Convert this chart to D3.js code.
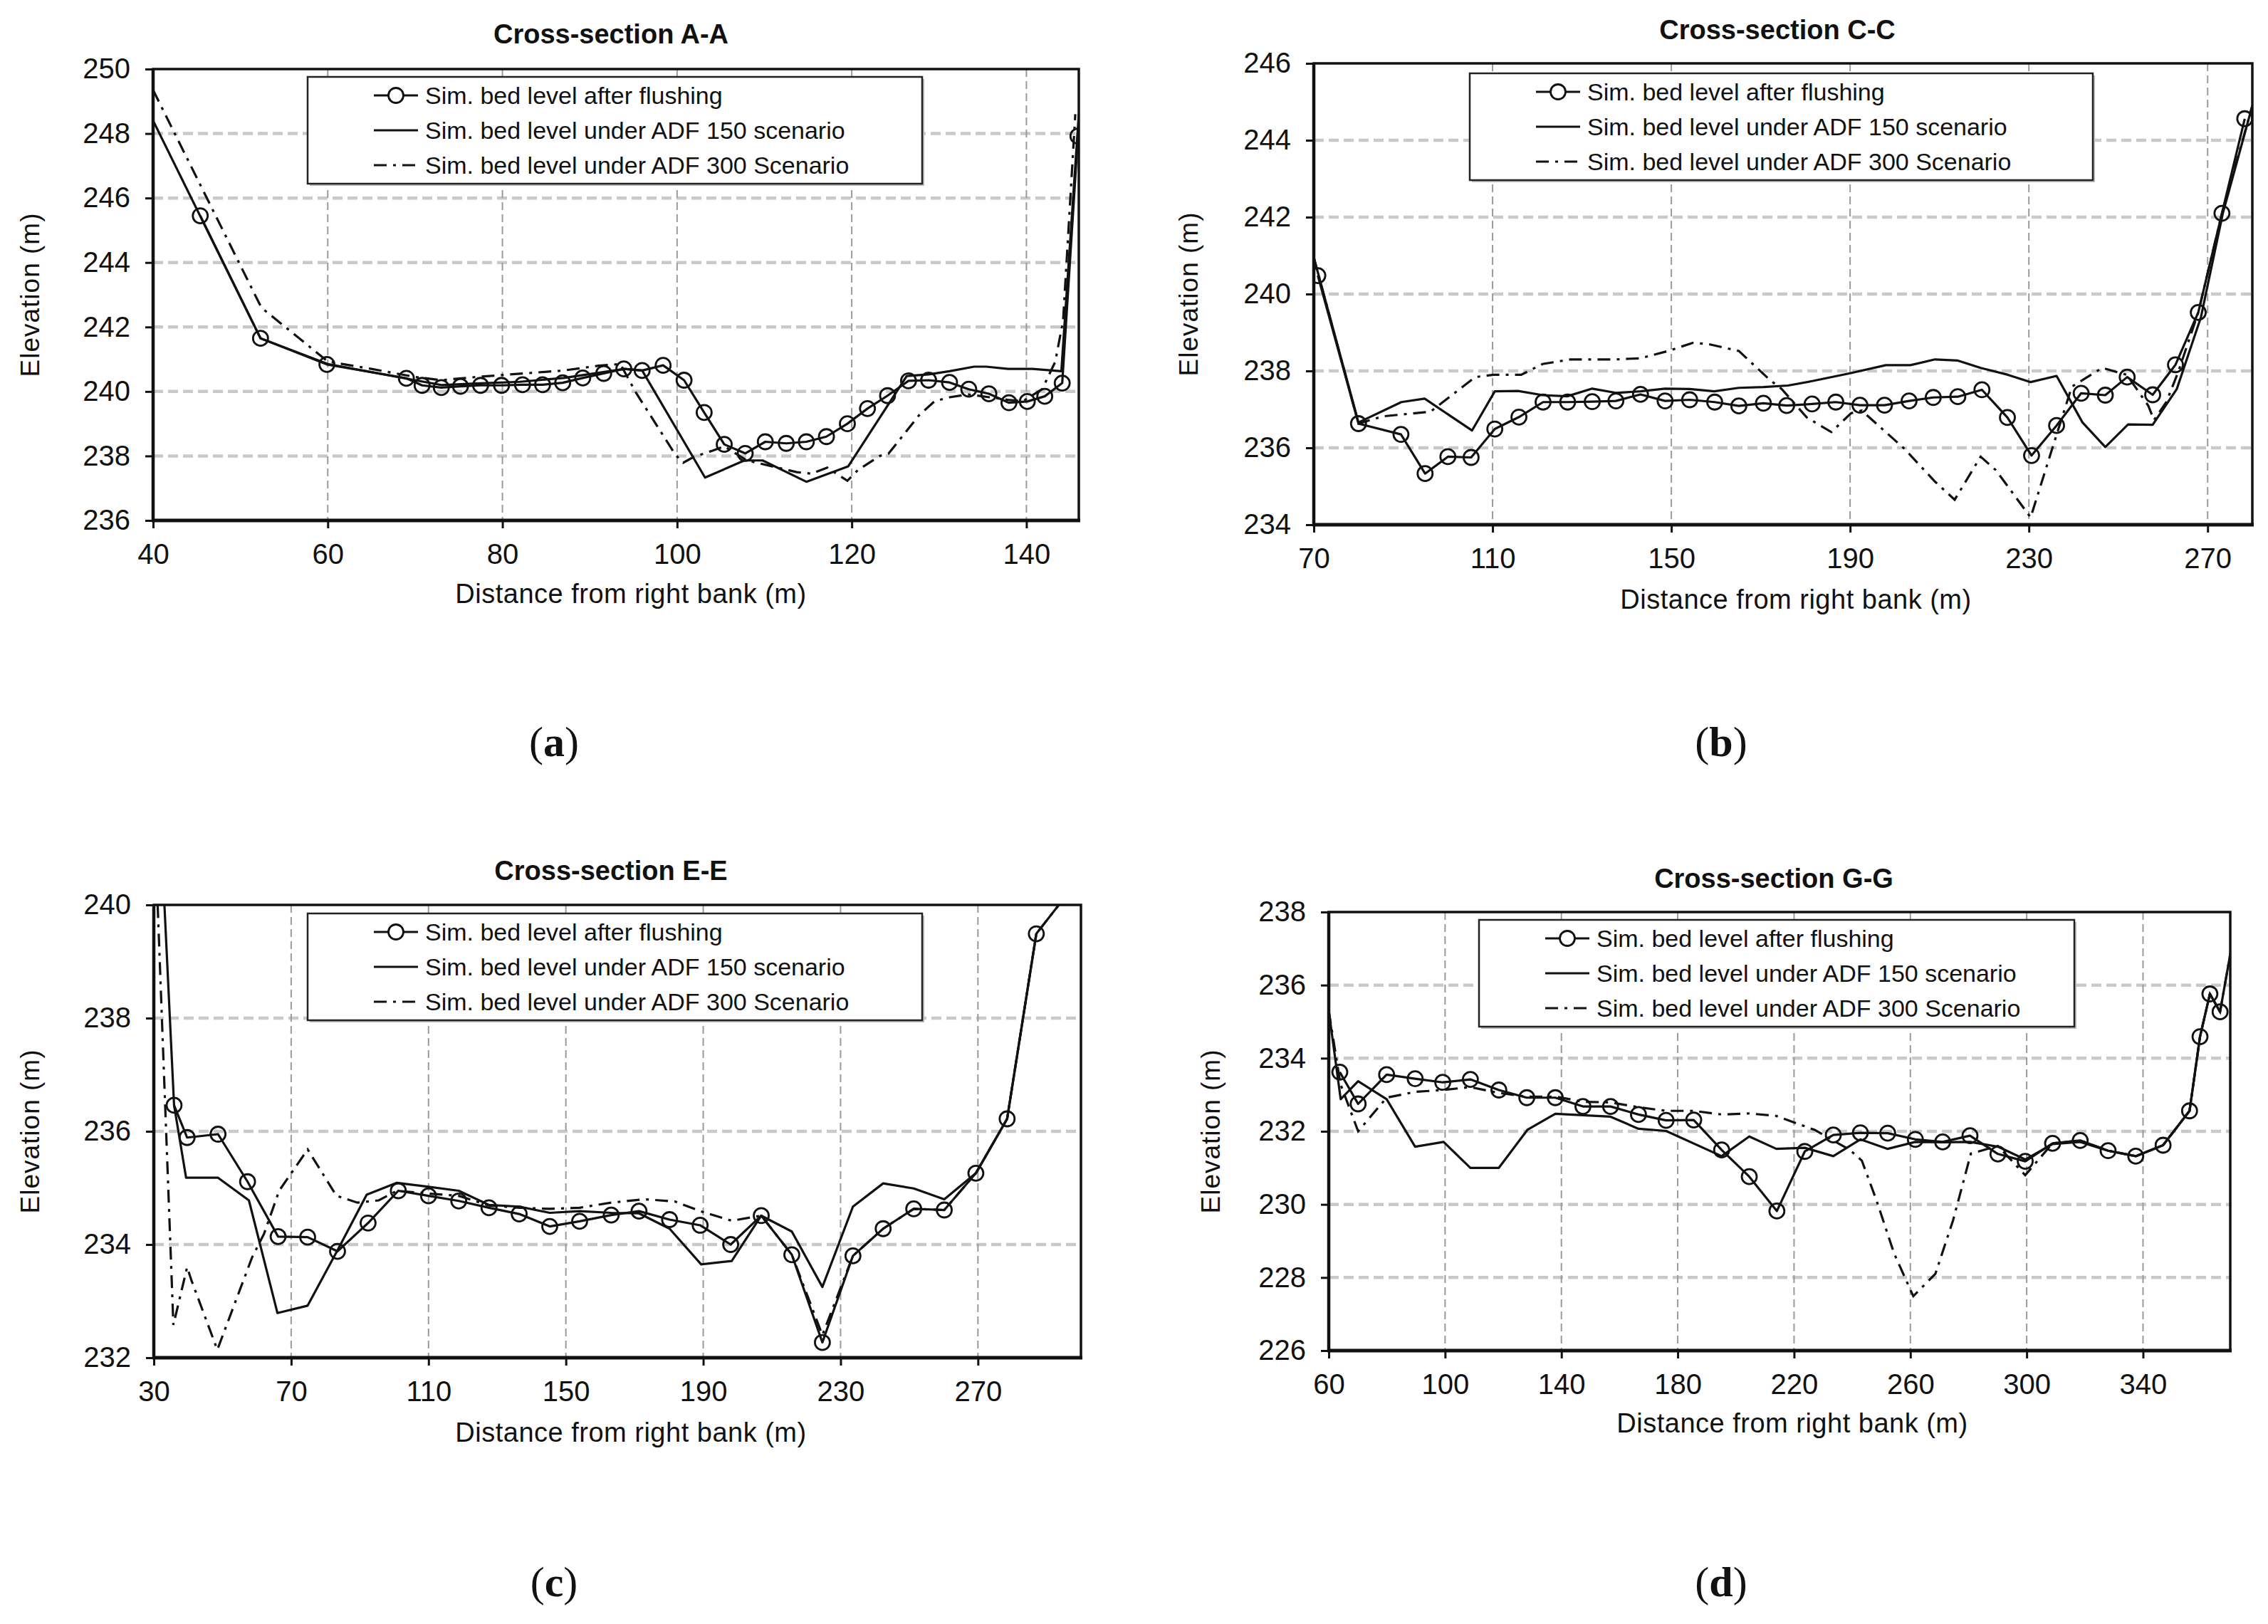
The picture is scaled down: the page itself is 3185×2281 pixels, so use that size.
<!DOCTYPE html>
<html>
<head>
<meta charset="utf-8">
<script src="https://cdn.jsdelivr.net/npm/d3@7"></script>
<style>
  body { margin: 0; background: #fff; }
  svg { display: block; }
  text { font-family: "Liberation Sans", Arial, sans-serif; fill: #111; }
</style>
</head>
<body>
<svg id="figure" width="3185" height="2281"></svg>
<script>
'use strict';

/* ---- values: [distance (m), elevation (m)] ---- */

// Cross-section A-A
const flushA = [[45.4,245.45],[52.3,241.65],[59.9,240.84],[69.0,240.41],[70.8,240.19],[73.0,240.12],
  [75.2,240.16],[77.5,240.19],[79.9,240.19],[82.3,240.21],[84.6,240.21],[86.9,240.27],[89.2,240.42],
  [91.6,240.56],[93.9,240.7],[96.0,240.65],[98.4,240.81],[100.8,240.35],[103.1,239.35],[105.4,238.36],
  [107.8,238.08],[110.1,238.44],[112.5,238.39],[114.8,238.44],[117.1,238.6],[119.5,239.0],[121.8,239.47],
  [124.1,239.87],[126.5,240.33],[128.8,240.35],[131.2,240.28],[133.4,240.07],[135.7,239.93],[138.0,239.65],
  [140.1,239.69],[142.1,239.85],[144.1,240.26],[145.9,247.92]];
const adf150A = [[40,248.4],[52.3,241.65],[60,240.85],[70,240.35],[73,240.2],[77,240.25],[82,240.3],
  [87,240.42],[91,240.58],[94,240.7],[96.0,240.65],[103.2,237.33],[107.7,237.86],[109.8,237.86],
  [114.8,237.2],[119.6,237.68],[126.3,240.48],[128.8,240.53],[131.2,240.63],[134.0,240.77],[135.4,240.77],
  [137.9,240.7],[140.7,240.7],[144.0,240.63],[146,248.6]];
const adf300A = [[40,249.35],[52.4,242.6],[60,240.93],[65,240.7],[70,240.45],[73,240.35],[77,240.45],
  [82,240.55],[87,240.65],[91,240.8],[93.5,240.85],[95.3,239.96],[99.8,238.04],[100.7,237.79],[101.9,237.97],
  [103.9,238.15],[105.4,238.3],[108,237.86],[113.7,237.5],[115.4,237.45],[117.2,237.64],[119.5,237.23],
  [120.7,237.56],[123.2,238.0],[124.2,238.07],[127.7,239.26],[129.5,239.7],[131.2,239.82],[133.3,239.91],
  [135.8,239.82],[137.9,239.74],[139.6,239.7],[141.8,240.07],[143.3,240.92],[144.2,242.2],[145.6,248.6]];
const xDomainA = [40, 146];
const yDomainA = [236, 250];
const xTicksA = [40, 60, 80, 100, 120, 140];
const yTicksA = [236, 238, 240, 242, 244, 246, 248, 250];

// Cross-section C-C
const flushB = [[70.9,240.48],[80.0,236.63],[89.5,236.35],[94.9,235.33],[100.0,235.77],[105.2,235.75],
  [110.5,236.49],[115.9,236.8],[121.3,237.19],[126.8,237.19],[132.3,237.2],[137.6,237.22],[143.1,237.39],
  [148.6,237.22],[154.1,237.25],[159.7,237.19],[165.1,237.09],[170.6,237.16],[175.8,237.1],[181.5,237.14],
  [186.8,237.19],[192.2,237.11],[197.7,237.11],[203.2,237.22],[208.6,237.31],[214.1,237.33],[219.5,237.51],
  [225.2,236.79],[230.6,235.8],[236.2,236.58],[241.7,237.42],[247.1,237.37],[252.0,237.84],[257.7,237.38],
  [262.8,238.16],[267.9,239.52],[273.2,242.1],[278.3,244.56]];
const adf150B = [[70,240.95],[80.0,236.66],[89.6,237.19],[94.8,237.28],[105.4,236.45],[110.5,237.47],
  [115.7,237.48],[121.2,237.37],[126.7,237.34],[132.3,237.54],[137.6,237.43],[143.1,237.47],[148.6,237.54],
  [154.1,237.53],[159.6,237.47],[165.1,237.56],[170.6,237.58],[176.1,237.62],[181.7,237.74],[190,237.94],
  [198,238.15],[203.5,238.15],[209,238.3],[214.1,238.27],[219.2,238.08],[225.3,237.9],[230.4,237.71],
  [236.2,237.87],[242.0,236.66],[247.1,236.02],[252.2,236.61],[257.7,236.6],[263.1,237.53],[268.5,239.4],
  [273.4,242.1],[280,244.9]];
const adf300B = [[70,240.95],[80.0,236.63],[85.5,236.82],[96.1,236.94],[106.1,237.84],[110.2,237.9],
  [116.4,237.9],[121.2,238.18],[127.4,238.3],[137.6,238.3],[143.1,238.33],[149.3,238.52],[154.8,238.73],
  [158.2,238.7],[165.1,238.52],[172,237.77],[174.7,237.53],[180.3,236.79],[185.8,236.41],[190.2,236.9],
  [192.6,236.97],[202.1,235.98],[209.0,235.12],[213.4,234.65],[219.2,235.77],[222.6,235.42],[230.4,234.19],
  [234.9,235.86],[239.6,237.59],[246.4,238.08],[251.9,237.9],[256.7,237.1],[258,236.72],[260.8,237.2],
  [263.5,238.0],[267.9,239.52],[273.2,242.1],[280,244.9]];
const xDomainB = [70, 280];
const yDomainB = [234, 246];
const xTicksB = [70, 110, 150, 190, 230, 270];
const yTicksB = [234, 236, 238, 240, 242, 244, 246];

// Cross-section E-E
const flushC = [[35.9,236.46],[39.7,235.89],[48.7,235.95],[57.3,235.11],[66.2,234.14],[74.8,234.13],
  [83.5,233.88],[92.4,234.38],[101.2,234.95],[110.0,234.86],[118.8,234.77],[127.6,234.65],[136.4,234.54],
  [145.3,234.32],[154.0,234.41],[163.2,234.52],[171.3,234.59],[180.2,234.44],[189.1,234.34],[198.0,234.0],
  [206.9,234.51],[215.8,233.82],[224.7,232.27],[233.6,233.8],[242.4,234.28],[251.3,234.63],[260.2,234.61],
  [269.4,235.26],[278.5,236.22],[287.0,239.49]];
const adf150C = [[31.5,242],[35.9,236.46],[39.4,235.18],[48.7,235.18],[57.7,234.78],[66.0,232.79],
  [74.8,232.92],[83.5,233.9],[92.0,234.88],[100.8,235.09],[110,235.02],[118.8,234.95],[127.6,234.7],
  [136.4,234.67],[145.3,234.56],[154,234.59],[163.2,234.56],[171.3,234.55],[180.2,234.28],[189.4,233.65],
  [198.3,233.71],[206.9,234.51],[215.8,234.23],[224.7,233.25],[233.6,234.67],[242.4,235.08],[251.3,234.99],
  [260.2,234.8],[269.4,235.26],[278.5,236.22],[287.0,239.49],[300,240.5]];
const adf300C = [[30.5,241],[35.7,232.58],[39.7,233.6],[41.0,233.36],[48.5,232.14],[58.6,233.77],
  [62.1,234.19],[66.5,234.95],[74.8,235.68],[83.2,234.86],[89.3,234.74],[95.5,234.78],[100.8,234.95],
  [110,234.9],[118.8,234.86],[127.6,234.69],[136.4,234.65],[145.3,234.63],[154,234.65],[163.2,234.74],
  [172.9,234.8],[181.8,234.76],[189.1,234.59],[198.3,234.42],[206.9,234.51],[215.8,233.82],[224.7,232.4],
  [233.6,233.8],[242.4,234.28],[251.3,234.63],[260.2,234.61],[269.4,235.26],[278.5,236.22],[287.0,239.49],
  [300,240.5]];
const xDomainC = [30, 300];
const yDomainC = [232, 240];
const xTicksC = [30, 70, 110, 150, 190, 230, 270];
const yTicksC = [232, 234, 236, 238, 240];

// Cross-section G-G
const flushD = [[63.8,233.62],[70.1,232.75],[79.9,233.55],[89.7,233.44],[99.2,233.34],[108.7,233.42],
  [118.5,233.13],[128.1,232.92],[137.9,232.92],[147.4,232.68],[156.9,232.68],[166.5,232.46],[176.0,232.3],
  [185.5,232.31],[195.1,231.49],[204.6,230.76],[214.1,229.82],[223.7,231.45],[233.5,231.9],[242.8,231.96],
  [252.2,231.95],[261.7,231.78],[271.1,231.71],[280.5,231.88],[290.1,231.38],[299.5,231.18],[308.9,231.67],
  [318.4,231.75],[328.0,231.47],[337.5,231.32],[346.9,231.62],[356.0,232.56],[359.6,234.59],[363.0,235.76],
  [366.5,235.27]];
const adf150D = [[60,235.3],[64.1,232.88],[70.1,233.37],[79.9,232.88],[89.7,231.58],[99.5,231.71],
  [108.7,231.0],[118.5,231.0],[128.3,232.04],[137.9,232.48],[156.9,232.4],[166.5,232.07],[176.0,232.01],
  [195.1,231.32],[204.6,231.86],[213.9,231.52],[223.7,231.55],[233.5,231.32],[242.8,231.78],[252.2,231.52],
  [261.7,231.71],[271.1,231.7],[280.5,231.71],[290.1,231.58],[299.5,231.23],[308.9,231.65],[318.4,231.71],
  [328.0,231.47],[337.5,231.32],[346.9,231.62],[356.0,232.56],[359.6,234.59],[363.0,235.76],[366.5,235.27],
  [370,236.85]];
const adf300D = [[60,235.3],[64,233.3],[70.1,232.0],[79.9,232.92],[89.7,233.08],[99.2,233.13],[108.7,233.21],
  [118.5,233.05],[128.1,232.95],[137.9,232.95],[147.4,232.81],[156.9,232.79],[166.5,232.66],[176,232.56],
  [185.5,232.56],[195.1,232.46],[204.6,232.49],[213.9,232.42],[227.1,232.04],[239.2,231.49],[243.3,231.2],
  [248.4,230.1],[254.4,228.66],[261,227.49],[268.6,228.1],[274.7,229.57],[280.8,231.39],[290.1,231.6],
  [299.5,230.8],[305.1,231.32],[308.9,231.67],[318.4,231.75],[328.0,231.47],[337.5,231.32],[346.9,231.62],
  [356.0,232.56],[359.6,234.59],[363.0,235.76],[366.5,235.27],[370,236.85]];
const xDomainD = [60, 370];
const yDomainD = [226, 238];
const xTicksD = [60, 100, 140, 180, 220, 260, 300, 340];
const yTicksD = [226, 228, 230, 232, 234, 236, 238];

const legendLabels = ['Sim. bed level after flushing',
                      'Sim. bed level under ADF 150 scenario',
                      'Sim. bed level under ADF 300 Scenario'];

/* ---- layout (pixels on the 3185 x 2281 page) ---- */
const panels = [
  { id: 'a', title: 'Cross-section A-A', flush: flushA, adf150: adf150A, adf300: adf300A,
    xDomain: xDomainA, yDomain: yDomainA, xTicks: xTicksA, yTicks: yTicksA,
    box: { x0: 215, x1: 1515, y0: 97, y1: 731 }, legend: { x: 432, y: 108, w: 863 },
    titleX: 858, titleY: 61, yLabelX: 42, xLabelX: 886, xLabelY: 847, letterX: 778, letterY: 1062 },
  { id: 'b', title: 'Cross-section C-C', flush: flushB, adf150: adf150B, adf300: adf300B,
    xDomain: xDomainB, yDomain: yDomainB, xTicks: xTicksB, yTicks: yTicksB,
    box: { x0: 1845, x1: 3163, y0: 89, y1: 737 }, legend: { x: 2064, y: 103, w: 875 },
    titleX: 2496, titleY: 55, yLabelX: 1669, xLabelX: 2522, xLabelY: 855, letterX: 2417, letterY: 1062 },
  { id: 'c', title: 'Cross-section E-E', flush: flushC, adf150: adf150C, adf300: adf300C,
    xDomain: xDomainC, yDomain: yDomainC, xTicks: xTicksC, yTicks: yTicksC,
    box: { x0: 216, x1: 1518, y0: 1271, y1: 1907 }, legend: { x: 432, y: 1283, w: 863 },
    titleX: 858, titleY: 1236, yLabelX: 42, xLabelX: 886, xLabelY: 2025, letterX: 778, letterY: 2242 },
  { id: 'd', title: 'Cross-section G-G', flush: flushD, adf150: adf150D, adf300: adf300D,
    xDomain: xDomainD, yDomain: yDomainD, xTicks: xTicksD, yTicks: yTicksD,
    box: { x0: 1866, x1: 3132, y0: 1281, y1: 1897 }, legend: { x: 2077, y: 1292, w: 836 },
    titleX: 2491, titleY: 1247, yLabelX: 1700, xLabelX: 2517, xLabelY: 2012, letterX: 2417, letterY: 2242 }
];

const DASH_DOT = '18,9,4,9';
const LINE_W = 3.2;
const MARKER_R = 10.5;

const svg = d3.select('#figure');
svg.append('rect').attr('width', 3185).attr('height', 2281).attr('fill', '#fff');

panels.forEach(p => {
  const b = p.box;
  const width = b.x1 - b.x0;
  const height = b.y1 - b.y0;

  const x = d3.scaleLinear().domain(p.xDomain).range([0, width]);
  const y = d3.scaleLinear().domain(p.yDomain).range([height, 0]);

  const g = svg.append('g').attr('transform', `translate(${b.x0},${b.y0})`);

  // clip so the bank lines stop at the frame
  g.append('defs').append('clipPath')
    .attr('id', 'clip-' + p.id)
    .append('rect')
    .attr('width', width)
    .attr('height', height);

  // grid: light thick dashes across, thin darker dashes up
  g.append('g')
    .selectAll('line')
    .data(p.yTicks.filter(v => v > p.yDomain[0] && v < p.yDomain[1]))
    .join('line')
    .attr('x1', 0).attr('x2', width)
    .attr('y1', d => y(d)).attr('y2', d => y(d))
    .attr('stroke', '#c9c9c9')
    .attr('stroke-width', 4.5)
    .attr('stroke-dasharray', '14,7');

  g.append('g')
    .selectAll('line')
    .data(p.xTicks.filter(v => v > p.xDomain[0] && v < p.xDomain[1]))
    .join('line')
    .attr('x1', d => x(d)).attr('x2', d => x(d))
    .attr('y1', 0).attr('y2', height)
    .attr('stroke', '#9a9a9a')
    .attr('stroke-width', 2)
    .attr('stroke-dasharray', '11,6');

  // axes
  const xAxis = d3.axisBottom(x)
    .tickValues(p.xTicks)
    .tickSize(11)
    .tickSizeOuter(0)
    .tickPadding(22)
    .tickFormat(d3.format('d'));
  const yAxis = d3.axisLeft(y)
    .tickValues(p.yTicks)
    .tickSize(11)
    .tickSizeOuter(0)
    .tickPadding(21)
    .tickFormat(d3.format('d'));

  const gx = g.append('g')
    .attr('transform', `translate(0,${height})`)
    .call(xAxis);
  const gy = g.append('g').call(yAxis);

  [gx, gy].forEach(ax => {
    ax.select('.domain').remove();
    ax.selectAll('.tick line').attr('stroke', '#111').attr('stroke-width', 3);
    ax.selectAll('.tick text')
      .attr('fill', '#1a1a1a')
      .style('font-size', '40px')
      .style('font-family', '"Liberation Sans", Arial, sans-serif');
  });

  // frame: thin top/right, heavier left and bottom axes
  g.append('rect')
    .attr('width', width)
    .attr('height', height)
    .attr('fill', 'none')
    .attr('stroke', '#111')
    .attr('stroke-width', 3.5);
  g.append('line')
    .attr('x1', -2).attr('x2', width + 2)
    .attr('y1', height).attr('y2', height)
    .attr('stroke', '#111')
    .attr('stroke-width', 5);
  g.append('line')
    .attr('x1', 0).attr('x2', 0)
    .attr('y1', 0).attr('y2', height)
    .attr('stroke', '#111')
    .attr('stroke-width', 4.5);

  // series
  const line = d3.line()
    .x(d => x(d[0]))
    .y(d => y(d[1]));

  const series = g.append('g').attr('clip-path', `url(#clip-${p.id})`);

  series.append('path')
    .datum(p.adf300)
    .attr('d', line)
    .attr('fill', 'none')
    .attr('stroke', '#111')
    .attr('stroke-width', LINE_W)
    .attr('stroke-dasharray', DASH_DOT);

  series.append('path')
    .datum(p.adf150)
    .attr('d', line)
    .attr('fill', 'none')
    .attr('stroke', '#111')
    .attr('stroke-width', LINE_W)
    .attr('stroke-linejoin', 'round');

  series.append('path')
    .datum(p.flush)
    .attr('d', line)
    .attr('fill', 'none')
    .attr('stroke', '#111')
    .attr('stroke-width', LINE_W)
    .attr('stroke-linejoin', 'round');

  series.append('g')
    .selectAll('circle')
    .data(p.flush)
    .join('circle')
    .attr('cx', d => x(d[0]))
    .attr('cy', d => y(d[1]))
    .attr('r', MARKER_R)
    .attr('fill', 'none')
    .attr('stroke', '#111')
    .attr('stroke-width', 2.8);

  // legend
  const lg = svg.append('g').attr('transform', `translate(${p.legend.x},${p.legend.y})`);
  lg.append('rect')
    .attr('x', 3).attr('y', 3)
    .attr('width', p.legend.w).attr('height', 150)
    .attr('fill', '#bdbdbd');
  lg.append('rect')
    .attr('width', p.legend.w).attr('height', 150)
    .attr('fill', '#fff')
    .attr('stroke', '#222')
    .attr('stroke-width', 2.5);

  const rowY = [26, 75, 124];
  legendLabels.forEach((label, i) => {
    const ly = rowY[i];
    const sample = lg.append('line')
      .attr('x1', 93).attr('x2', 155)
      .attr('y1', ly).attr('y2', ly)
      .attr('stroke', '#111')
      .attr('stroke-width', LINE_W);
    if (i === 2) sample.attr('stroke-dasharray', DASH_DOT);
    if (i === 0) {
      lg.append('circle')
        .attr('cx', 124).attr('cy', ly)
        .attr('r', MARKER_R)
        .attr('fill', '#fff')
        .attr('stroke', '#111')
        .attr('stroke-width', 2.8);
    }
    lg.append('text')
      .attr('x', 165)
      .attr('y', ly)
      .attr('dy', '0.36em')
      .style('font-size', '34px')
      .text(label);
  });

  // titles and axis labels
  svg.append('text')
    .attr('x', p.titleX)
    .attr('y', p.titleY)
    .attr('text-anchor', 'middle')
    .style('font-size', '38px')
    .style('font-weight', 'bold')
    .text(p.title);

  svg.append('text')
    .attr('x', p.xLabelX)
    .attr('y', p.xLabelY)
    .attr('text-anchor', 'middle')
    .style('font-size', '38px')
    .style('letter-spacing', '0.5px')
    .text('Distance from right bank (m)');

  svg.append('text')
    .attr('transform', `translate(${p.yLabelX},${(b.y0 + b.y1) / 2}) rotate(-90)`)
    .attr('text-anchor', 'middle')
    .attr('dy', '0.36em')
    .style('font-size', '37px')
    .style('letter-spacing', '1px')
    .text('Elevation (m)');

  // panel letter
  const letter = svg.append('text')
    .attr('x', p.letterX)
    .attr('y', p.letterY)
    .attr('text-anchor', 'middle')
    .style('font-family', '"Liberation Serif", "DejaVu Serif", serif')
    .style('font-size', '60px');
  letter.append('tspan').text('(');
  letter.append('tspan').style('font-weight', 'bold').text(p.id);
  letter.append('tspan').text(')');
});
</script>
</body>
</html>
